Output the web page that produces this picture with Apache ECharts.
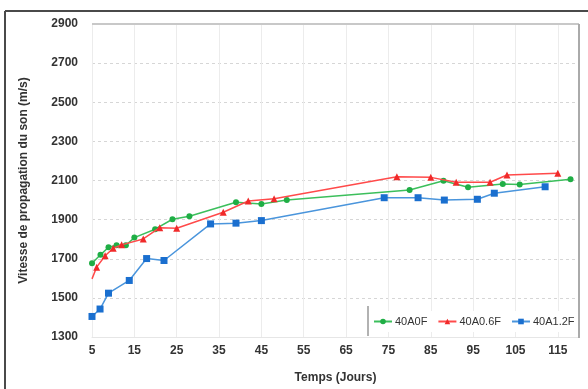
<!DOCTYPE html>
<html>
<head>
<meta charset="utf-8">
<script src="https://cdn.jsdelivr.net/npm/echarts@6/dist/echarts.min.js"></script>
<style>html,body{margin:0;padding:0;background:#fff;}#c{width:588px;height:389px;}</style>
</head>
<body>
<div id="c"></div>
<script>
// ---- data ----
const seriesNames = ['40A0F', '40A0.6F', '40A1.2F'];
const greenX = [5, 7, 8.9, 10.8, 13, 15, 19.9, 24, 28, 39, 45, 51, 80, 88, 93.8, 102, 106, 118];
const greenY = [1677, 1720, 1759, 1769, 1769, 1808, 1851, 1902, 1917, 1989, 1980, 2000, 2051, 2099, 2065, 2082, 2079, 2106];
const redX = [5, 6.1, 8.1, 10, 12, 17.1, 21, 25, 36, 41.9, 48, 77, 85, 91, 99, 103, 115];
const redY = [1597, 1657, 1715, 1754, 1771, 1801, 1859, 1856, 1938, 1995, 2007, 2119, 2116, 2091, 2091, 2128, 2137];
const blueX = [5, 6.9, 8.9, 13.8, 17.9, 22, 33, 39, 45, 74, 82, 88.2, 96, 100, 112];
const blueY = [1405, 1443, 1524, 1589, 1701, 1691, 1878, 1882, 1895, 2012, 2012, 2000, 2004, 2035, 2068];
const xTitle = 'Temps (Jours)';
const yTitle = 'Vitesse de propagation du son (m/s)';

function pairs(xs, ys) { return xs.map((x, i) => [x, ys[i]]); }

const chart = echarts.init(document.getElementById('c'), null, {renderer: 'canvas'});
const redData = pairs(redX, redY).map((p, i) => i === 0 ? {value: p, symbol: 'none'} : p);

const labelFont = {color: '#333', fontSize: 12, fontWeight: 'bold', fontFamily: 'Liberation Sans'};

chart.setOption({
  animation: false,
  backgroundColor: '#fff',
  grid: {left: 92, right: 9, top: 24, bottom: 52},
  xAxis: {
    type: 'value', min: 5, max: 120, interval: 10,
    name: xTitle, nameLocation: 'middle', nameGap: 35,
    nameTextStyle: {color: '#333', fontSize: 12, fontWeight: 'bold', fontFamily: 'Liberation Sans'},
    axisLine: {show: true, lineStyle: {color: '#e6e6e6', width: 1}},
    axisTick: {show: false},
    axisLabel: Object.assign({margin: 8, showMaxLabel: false, formatter: v => String(v)}, labelFont),
    splitLine: {show: true, lineStyle: {color: '#ececec', width: 1}}
  },
  yAxis: {
    type: 'value', min: 1300, max: 2900, interval: 200,
    name: yTitle, nameLocation: 'middle', nameGap: 62,
    nameTextStyle: {color: '#333', fontSize: 12, fontWeight: 'bold', fontFamily: 'Liberation Sans'},
    axisLine: {show: false},
    axisTick: {show: false},
    axisLabel: Object.assign({margin: 14, formatter: v => String(v)}, labelFont),
    splitLine: {show: true, lineStyle: {color: '#d6d6d6', type: [3, 3], width: 1}}
  },
  legend: {
    left: 371, top: 311, itemWidth: 18, itemHeight: 7, itemGap: 10,
    backgroundColor: '#fff', padding: [5, 2, 5, 2],
    textStyle: {color: '#333', fontSize: 11, fontFamily: 'Liberation Sans', padding: [0, 0, 0, -2]},
    data: seriesNames
  },
  graphic: [
    {type: 'line', shape: {x1: 5, y1: 11, x2: 588, y2: 11}, style: {stroke: '#4a4a4a', lineWidth: 2}, z: 100},
    {type: 'line', shape: {x1: 5, y1: 11, x2: 5, y2: 389}, style: {stroke: '#4a4a4a', lineWidth: 2}, z: 100},
    {type: 'line', shape: {x1: 92, y1: 24, x2: 579, y2: 24}, style: {stroke: '#c8c8c8', lineWidth: 2}, z: 100},
    {type: 'line', shape: {x1: 579, y1: 24, x2: 579, y2: 338}, style: {stroke: '#aaaaaa', lineWidth: 2}, z: 100},
    {type: 'line', shape: {x1: 368, y1: 306, x2: 368, y2: 336}, style: {stroke: '#999999', lineWidth: 1.5}, z: 100}
  ],
  series: [
    {
      name: seriesNames[0], type: 'line', data: pairs(greenX, greenY),
      symbol: 'circle', symbolSize: 6,
      itemStyle: {color: '#1fae45'}, lineStyle: {color: '#3cbf5c', width: 1.5}, z: 3
    },
    {
      name: seriesNames[1], type: 'line', data: redData,
      symbol: 'triangle', symbolSize: 7,
      itemStyle: {color: '#f02a2a'}, lineStyle: {color: '#ff4a4a', width: 1.5}, z: 4
    },
    {
      name: seriesNames[2], type: 'line', data: pairs(blueX, blueY),
      symbol: 'rect', symbolSize: 7,
      itemStyle: {color: '#1a6fcf'}, lineStyle: {color: '#4a95dc', width: 1.5}, z: 2
    }
  ]
});
</script>
</body>
</html>
